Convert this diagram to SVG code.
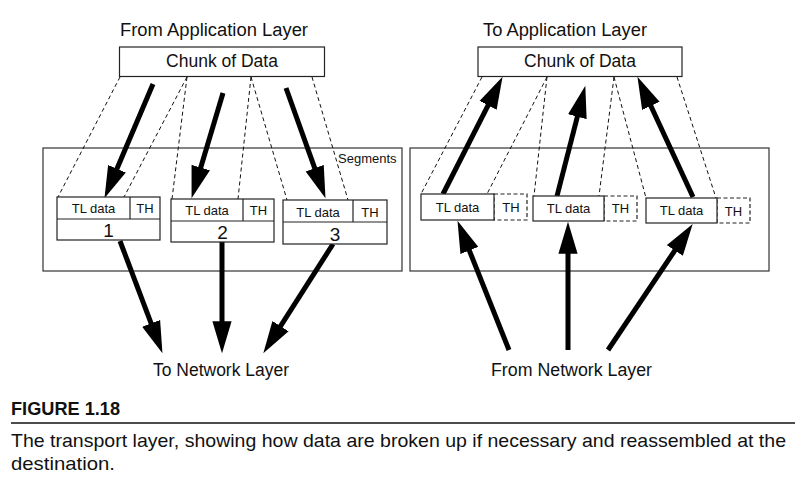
<svg xmlns="http://www.w3.org/2000/svg" width="812" height="496" viewBox="0 0 812 496">
<style>
  .bx{fill:#fff;stroke:#222;stroke-width:1.2}
  .dbx{fill:none;stroke:#222;stroke-width:1.2;stroke-dasharray:4 2.5}
  .frame{fill:none;stroke:#333;stroke-width:1.2}
  .dash{stroke:#111;stroke-width:1;stroke-dasharray:4 3;fill:none}
  .arr{stroke:#000;stroke-width:5;fill:none;marker-end:url(#head)}
  text{font-family:"Liberation Sans",Arial,sans-serif;fill:#111}
  .lbl{font-size:18px}
  .chunk{font-size:17.5px;text-anchor:middle}
  .small{font-size:13px;text-anchor:middle}
  .num{font-size:19px;text-anchor:middle}
</style>
<defs>
  <marker id="head" markerUnits="userSpaceOnUse" markerWidth="32" markerHeight="20" refX="10" refY="9" orient="auto" viewBox="0 0 30 18">
    <path d="M0,0 L30,9 L0,18 z" fill="#000"/>
  </marker>
</defs>
<rect width="812" height="496" fill="#fff"/>

<!-- frames -->
<g id="sender-frame"><rect class="frame" x="43" y="148" width="359" height="123"/>
  <text x="338" y="163" style="font-size:13px">Segments</text></g>
<g id="receiver-frame"><rect class="frame" x="410" y="148" width="359" height="123"/></g>

<!-- top labels & chunks -->
<g id="from-app"><text class="lbl" x="120" y="36" textLength="188" lengthAdjust="spacingAndGlyphs">From Application Layer</text></g>
<g id="chunk-left"><rect class="bx" x="119.5" y="47" width="205" height="29.5"/>
  <text class="chunk" x="222" y="67">Chunk of Data</text></g>
<g id="to-app"><text class="lbl" x="483" y="36" textLength="164" lengthAdjust="spacingAndGlyphs">To Application Layer</text></g>
<g id="chunk-right"><rect class="bx" x="478" y="47" width="204" height="29.5"/>
  <text class="chunk" x="580" y="67">Chunk of Data</text></g>

<!-- connectors -->
<g id="connectors">
  <line class="dash" x1="120" y1="77" x2="58" y2="197"/>
  <line class="dash" x1="187" y1="77" x2="124" y2="197"/>
  <line class="dash" x1="187" y1="77" x2="172" y2="199"/>
  <line class="dash" x1="251" y1="77" x2="238" y2="199"/>
  <line class="dash" x1="251" y1="77" x2="287" y2="200"/>
  <line class="dash" x1="312" y1="77" x2="348" y2="200"/>

  <line class="dash" x1="482" y1="77" x2="421" y2="194"/>
  <line class="dash" x1="547" y1="77" x2="487" y2="194"/>
  <line class="dash" x1="547" y1="77" x2="534" y2="196"/>
  <line class="dash" x1="614" y1="77" x2="599" y2="196"/>
  <line class="dash" x1="614" y1="77" x2="646" y2="198"/>
  <line class="dash" x1="677" y1="77" x2="716" y2="198"/>

  <line class="arr" x1="153" y1="84" x2="112.8" y2="178.6"/>
  <line class="arr" x1="223" y1="93" x2="197.7" y2="177.8"/>
  <line class="arr" x1="286" y1="88" x2="318.3" y2="178.2"/>

  <line class="arr" x1="120" y1="241" x2="154.9" y2="333.3"/>
  <line class="arr" x1="222" y1="242" x2="222" y2="332"/>
  <line class="arr" x1="333" y1="244" x2="274.8" y2="335.2"/>

  <line class="arr" x1="443" y1="194" x2="492.9" y2="95.8"/>
  <line class="arr" x1="557" y1="196" x2="580" y2="106.4"/>
  <line class="arr" x1="693" y1="197" x2="646.4" y2="96.2"/>

  <line class="arr" x1="509" y1="350" x2="465.4" y2="240.6"/>
  <line class="arr" x1="568" y1="350" x2="568" y2="243"/>
  <line class="arr" x1="608" y1="350" x2="680.8" y2="241.6"/>
</g>

<!-- sender segments -->
<g id="seg1">
  <rect class="bx" x="57" y="197" width="103" height="43"/>
  <line class="bx" x1="57" y1="219" x2="160" y2="219"/>
  <line class="bx" x1="130" y1="197" x2="130" y2="219"/>
  <text class="small" x="93.5" y="213">TL data</text>
  <text class="small" x="145" y="213">TH</text>
  <text class="num" x="108.5" y="237">1</text>
</g>
<g id="seg2">
  <rect class="bx" x="171" y="199" width="103" height="43"/>
  <line class="bx" x1="171" y1="221" x2="274" y2="221"/>
  <line class="bx" x1="243" y1="199" x2="243" y2="221"/>
  <text class="small" x="207" y="215">TL data</text>
  <text class="small" x="258.5" y="215">TH</text>
  <text class="num" x="222.5" y="239">2</text>
</g>
<g id="seg3">
  <rect class="bx" x="283" y="200" width="104" height="44"/>
  <line class="bx" x1="283" y1="222" x2="387" y2="222"/>
  <line class="bx" x1="353" y1="200" x2="353" y2="222"/>
  <text class="small" x="318" y="216.5">TL data</text>
  <text class="small" x="370" y="216.5">TH</text>
  <text class="num" x="335" y="241">3</text>
</g>

<!-- receiver segments -->
<g id="rseg1">
  <rect class="dbx" x="494" y="194" width="33" height="26"/>
  <rect class="bx" x="421" y="194" width="73" height="26"/>
  <text class="small" x="457.5" y="211.5">TL data</text>
  <text class="small" x="511" y="212">TH</text>
</g>
<g id="rseg2">
  <rect class="dbx" x="604" y="196" width="33" height="25"/>
  <rect class="bx" x="533" y="196" width="71" height="25"/>
  <text class="small" x="568.5" y="213">TL data</text>
  <text class="small" x="620.5" y="213">TH</text>
</g>
<g id="rseg3">
  <rect class="dbx" x="717" y="198" width="33" height="25"/>
  <rect class="bx" x="646" y="198" width="71" height="25"/>
  <text class="small" x="681.5" y="215">TL data</text>
  <text class="small" x="733.5" y="216">TH</text>
</g>

<!-- bottom labels -->
<g id="to-net"><text class="lbl" x="153" y="376" textLength="136" lengthAdjust="spacingAndGlyphs">To Network Layer</text></g>
<g id="from-net"><text class="lbl" x="491" y="376" textLength="161" lengthAdjust="spacingAndGlyphs">From Network Layer</text></g>

<!-- caption -->
<g id="caption">
  <text x="11" y="415" style="font-size:18px;font-weight:bold" textLength="109" lengthAdjust="spacingAndGlyphs">FIGURE 1.18</text>
  <line x1="11" y1="423" x2="795" y2="423" stroke="#111" stroke-width="1.6"/>
  <text x="11" y="447" style="font-size:19px" textLength="775" lengthAdjust="spacingAndGlyphs">The transport layer, showing how data are broken up if necessary and reassembled at the</text>
  <text x="11" y="470" style="font-size:19px" textLength="104" lengthAdjust="spacingAndGlyphs">destination.</text>
</g>
</svg>
